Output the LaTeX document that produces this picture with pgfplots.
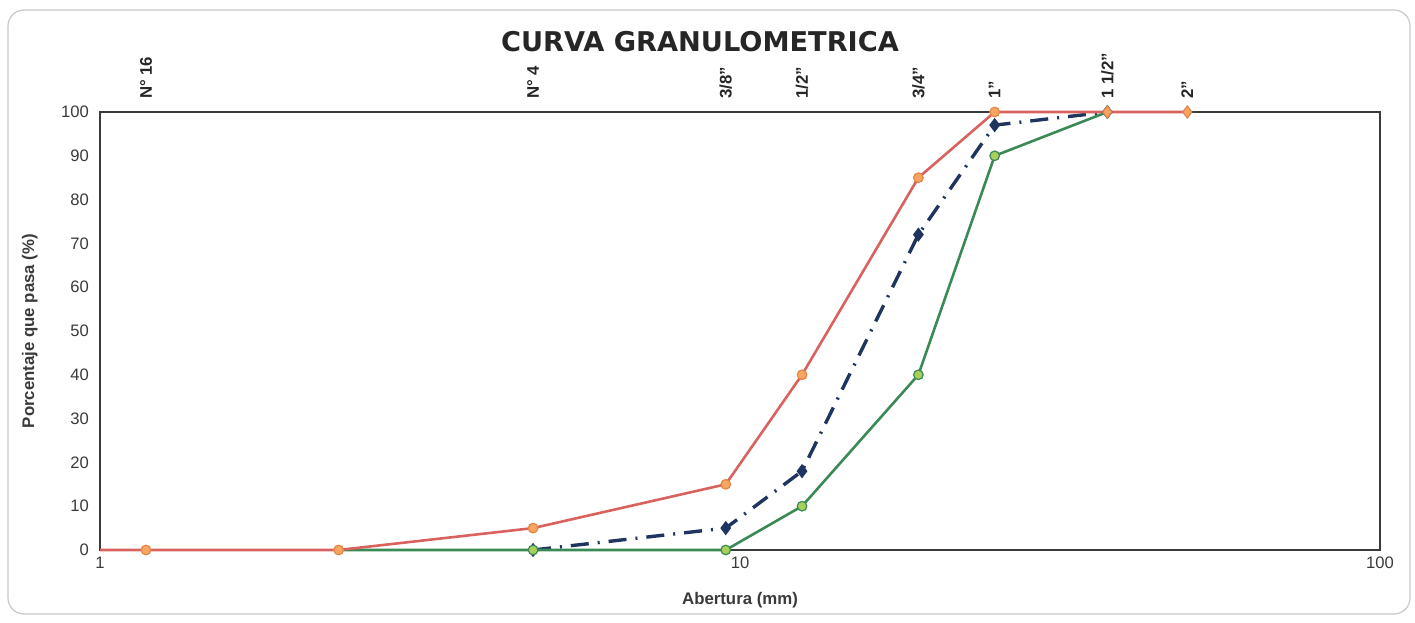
\documentclass[border=0pt]{standalone}
\usepackage{fontspec}
\setmainfont{Liberation Sans}
\newfontfamily\titlefont{DejaVu Sans}
\usepackage{pgfplots}
\pgfplotsset{compat=1.18}
\definecolor{redline}{HTML}{D9625F}
\definecolor{orangefill}{HTML}{F7A561}
\definecolor{orangeedge}{HTML}{E58545}
\definecolor{greenline}{HTML}{3A8A55}
\definecolor{greenfill}{HTML}{A9CF5B}
\definecolor{navy}{HTML}{1F3560}
\definecolor{axisgray}{HTML}{3A3A3A}
\definecolor{framegray}{HTML}{C8C8C8}
\begin{document}
\begin{tikzpicture}
\useasboundingbox (0,0) rectangle (707.5pt,311pt);
\draw[framegray, line width=0.6pt, rounded corners=8pt] (4pt,4pt) rectangle (705pt,306pt);
\node[font=\titlefont\bfseries\fontsize{13.6}{16}\selectfont, text=black!85] at (350pt,290pt) {CURVA GRANULOMETRICA};
\begin{axis}[
  at={(50pt,36pt)}, anchor=south west,
  scale only axis, width=640pt, height=219pt,
  xmode=log, xmin=1, xmax=100, ymin=0, ymax=100,
  xtick={1,10,100}, xticklabels={1,10,100},
  ytick={0,10,...,100},
  minor xtick={}, xminorticks=false,
  major tick length=0pt,
  axis line style={axisgray, line width=0.8pt},
  tick label style={font=\fontsize{8.3}{10}\selectfont, text=axisgray},
  yticklabel style={xshift=-2pt},
  /pgf/number format/assume math mode=true,
  xlabel={Abertura (mm)}, ylabel={Porcentaje que pasa (\%)},
  xlabel style={font=\bfseries\fontsize{8.4}{10}\selectfont, text=axisgray, yshift=-5pt},
  ylabel style={font=\bfseries\fontsize{8.4}{10}\selectfont, text=axisgray, yshift=5pt},
  clip=false,
]
% Ensayo (navy dash-dot)
\addplot[navy, line width=1.7pt, dash pattern=on 9pt off 4.5pt on 1pt off 4.5pt,
  mark=diamond*, mark size=3.2pt, mark options={solid, fill=navy, draw=navy, line width=0.5pt}]
  coordinates {(4.75,0) (9.5,5) (12.5,18) (19,72) (25,97) (37.5,100)};
% Lower limit (green)
\addplot[greenline, line width=1.3pt, mark=*, mark size=2.4pt,
  mark options={fill=greenfill, draw=greenline, line width=0.6pt},
  mark indices={2,3,4,5,6}]
  coordinates {(2.36,0) (4.75,0) (9.5,0) (12.5,10) (19,40) (25,90) (37.5,100)};
% Upper limit (red)
\addplot[redline, line width=1.3pt, mark=*, mark size=2.4pt,
  mark options={fill=orangefill, draw=orangeedge, line width=0.6pt},
  mark indices={2,3,4,5,6,7,8}]
  coordinates {(1,0) (1.18,0) (2.36,0) (4.75,5) (9.5,15) (12.5,40) (19,85) (25,100) (37.5,100) (50,100)};
\addplot[only marks, mark=diamond*, mark size=3pt,
  mark options={fill=orangefill, draw=orangeedge, line width=0.6pt}]
  coordinates {(37.5,100) (50,100)};
\end{axis}
\begin{axis}[
  at={(50pt,36pt)}, anchor=south west,
  scale only axis, width=640pt, height=219pt,
  xmode=log, xmin=1, xmax=100, ymin=0, ymax=100,
  axis x line*=top, hide y axis,
  axis line style={draw=none},
  xtick={1.18,4.75,9.5,12.5,19,25,37.5,50},
  xticklabels={N° 16, N° 4, 3/8", 1/2", 3/4", 1", 1 1/2", 2"},
  minor xtick={}, xminorticks=false,
  major tick length=0pt,
  xticklabel style={rotate=90, anchor=west, font=\bfseries\fontsize{8.4}{10}\selectfont, text=black!85, xshift=3pt},
]
\addplot[draw=none] coordinates {(1,0) (100,100)};
\end{axis}
\end{tikzpicture}
\end{document}
